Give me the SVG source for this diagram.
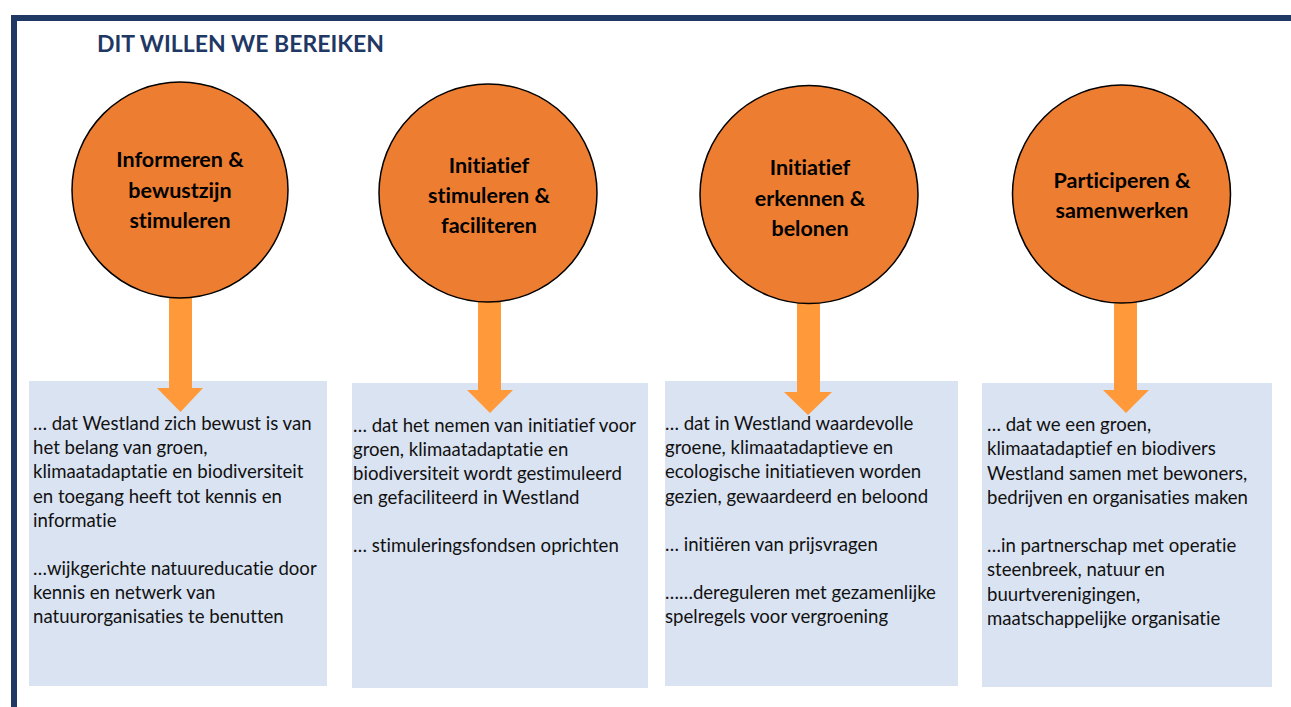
<svg xmlns="http://www.w3.org/2000/svg" width="1291" height="707" viewBox="0 0 1291 707">
<style>
.frame{fill:none;stroke:#1F3864;stroke-width:6}
.title{font-family:Lato,"Liberation Sans",sans-serif;font-weight:bold;font-size:23px;fill:#1F3864}
.circ{fill:#ED7D31;stroke:#000;stroke-width:1.5}
.ct{font-family:Lato,"Liberation Sans",sans-serif;font-weight:bold;font-size:21.5px;fill:#000;text-anchor:middle;font-variant-ligatures:none}
.box{fill:#DAE3F2}
.bt{font-family:Lato,"Liberation Sans",sans-serif;font-size:18.6px;fill:#111;font-variant-ligatures:none}
.arrow{fill:#FF993A}
</style>
<rect width="1291" height="707" fill="#fff"/>
<path class="frame" d="M14 707 V18 H1291"/>
<text class="title" x="97" y="52">DIT WILLEN WE BEREIKEN</text>

<g id="box1"><rect class="box" x="29" y="381" width="298" height="305"/>
<text class="bt" x="33"><tspan x="33" y="430">… dat Westland zich bewust is van</tspan><tspan x="33" y="454">het belang van groen,</tspan><tspan x="33" y="478">klimaatadaptatie en biodiversiteit</tspan><tspan x="33" y="503">en toegang heeft tot kennis en</tspan><tspan x="33" y="527">informatie</tspan><tspan x="33" y="575">…wijkgerichte natuureducatie door</tspan><tspan x="33" y="599">kennis en netwerk van</tspan><tspan x="33" y="623">natuurorganisaties te benutten</tspan></text></g>
<g id="box2"><rect class="box" x="352" y="383" width="296" height="305"/>
<text class="bt"><tspan x="353" y="432">… dat het nemen van initiatief voor</tspan><tspan x="353" y="456">groen, klimaatadaptatie en</tspan><tspan x="353" y="480">biodiversiteit wordt gestimuleerd</tspan><tspan x="353" y="504">en gefaciliteerd in Westland</tspan><tspan x="353" y="552">… stimuleringsfondsen oprichten</tspan></text></g>
<g id="box3"><rect class="box" x="665" y="381" width="293" height="305"/>
<text class="bt"><tspan x="665" y="430">… dat in Westland waardevolle</tspan><tspan x="665" y="454">groene, klimaatadaptieve en</tspan><tspan x="665" y="478">ecologische initiatieven worden</tspan><tspan x="665" y="503">gezien, gewaardeerd en beloond</tspan><tspan x="665" y="551">… initiëren van prijsvragen</tspan><tspan x="665" y="599">……dereguleren met gezamenlijke</tspan><tspan x="665" y="623">spelregels voor vergroening</tspan></text></g>
<g id="box4"><rect class="box" x="982" y="383" width="290" height="304"/>
<text class="bt"><tspan x="987" y="431">… dat we een groen,</tspan><tspan x="987" y="455">klimaatadaptief en biodivers</tspan><tspan x="987" y="480">Westland samen met bewoners,</tspan><tspan x="987" y="504">bedrijven en organisaties maken</tspan><tspan x="987" y="552">…in partnerschap met operatie</tspan><tspan x="987" y="576">steenbreek, natuur en</tspan><tspan x="987" y="601">buurtverenigingen,</tspan><tspan x="987" y="625">maatschappelijke organisatie</tspan></text></g>

<g id="connectors">
<path class="arrow" d="M169 290 H192 V388 H203 L180.5 412 L157 388 H169 Z"/>
<path class="arrow" d="M478 295 H501 V390 H513 L490 413 L467 390 H478 Z"/>
<path class="arrow" d="M797 295 H820 V392 H832 L808 415 L784 392 H797 Z"/>
<path class="arrow" d="M1114 295 H1137 V390 H1149 L1126 413 L1103 390 H1114 Z"/>
</g>

<g id="c1"><circle class="circ" cx="180" cy="190" r="108"/>
<text class="ct"><tspan x="180" y="167">Informeren &amp;</tspan><tspan x="180" y="198">bewustzijn</tspan><tspan x="180" y="228">stimuleren</tspan></text></g>
<g id="c2"><circle class="circ" cx="488" cy="193" r="109"/>
<text class="ct"><tspan x="489" y="173">Initiatief</tspan><tspan x="489" y="203">stimuleren &amp;</tspan><tspan x="489" y="233">faciliteren</tspan></text></g>
<g id="c3"><circle class="circ" cx="809" cy="194.5" r="109"/>
<text class="ct"><tspan x="810" y="175">Initiatief</tspan><tspan x="810" y="206">erkennen &amp;</tspan><tspan x="810" y="236">belonen</tspan></text></g>
<g id="c4"><circle class="circ" cx="1121.5" cy="194" r="109"/>
<text class="ct"><tspan x="1122" y="188">Participeren &amp;</tspan><tspan x="1122" y="218">samenwerken</tspan></text></g>
</svg>
